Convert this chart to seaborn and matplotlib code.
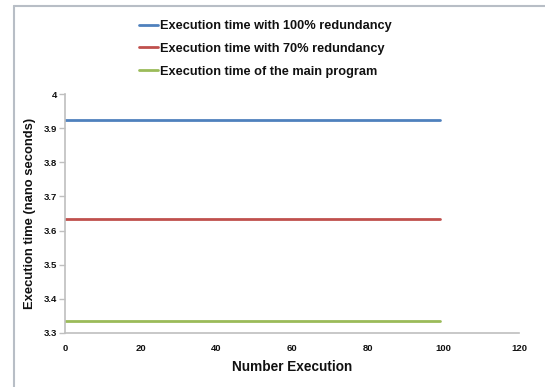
import numpy as np
import pandas as pd
import matplotlib
matplotlib.use("Agg")
import matplotlib.pyplot as plt
from matplotlib.lines import Line2D
import seaborn as sns

# Measured execution times (nanoseconds) for each of the 100 runs
runs = list(range(0, 100))
series_names = [
    "Execution time with 100% redundancy",
    "Execution time with 70% redundancy",
    "Execution time of the main program",
]
series_levels = [3.925, 3.633, 3.335]
series_colors = ["#4f81bd", "#c0504d", "#9bbb59"]

x_ticks = [0, 20, 40, 60, 80, 100, 120]
y_ticks = [3.3, 3.4, 3.5, 3.6, 3.7, 3.8, 3.9, 4.0]
y_tick_labels = ["3.3", "3.4", "3.5", "3.6", "3.7", "3.8", "3.9", "4"]

frames = []
for name, level in zip(series_names, series_levels):
    frames.append(pd.DataFrame({
        "run": runs,
        "time": [level for _ in runs],
        "series": name,
    }))
df = pd.concat(frames, ignore_index=True)

sns.set_theme(style="white")
plt.rcParams["font.family"] = ["Liberation Sans", "DejaVu Sans"]

fig = plt.figure(figsize=(5.45, 3.87), dpi=100)
ax = fig.add_axes([65 / 545, 1 - 333 / 387, (519 - 65) / 545, (333 - 94) / 387])

sns.lineplot(data=df, x="run", y="time", hue="series", hue_order=series_names,
             palette=series_colors, linewidth=2.0, ax=ax, legend=False)

ax.set_xlim(0, 120)
ax.set_ylim(3.3, 4.0)
ax.set_xticks(x_ticks)
ax.set_xticklabels([str(t) for t in x_ticks], fontsize=6.8, fontweight="bold")
ax.set_yticks(y_ticks)
ax.set_yticklabels(y_tick_labels, fontsize=6.8, fontweight="bold")
ax.tick_params(axis="x", length=0, pad=8, colors="#111111")
ax.tick_params(axis="y", length=4, width=1, color="#bfbfbf", pad=2, colors="#111111",
               left=True)

for side in ["top", "right"]:
    ax.spines[side].set_visible(False)
for side in ["left", "bottom"]:
    ax.spines[side].set_color("#bfbfbf")
    ax.spines[side].set_linewidth(1.2)

ax.set_xlabel("Number Execution", fontsize=9.8, fontweight="bold", labelpad=5,
              color="#111111")
ax.set_ylabel("Execution time (nano seconds)", fontsize=9.4, fontweight="bold",
              labelpad=5, color="#111111")

handles = [Line2D([0], [0], color=c, linewidth=2.0) for c in series_colors]
fig.legend(handles, series_names, loc="upper left",
           bbox_to_anchor=(139 / 545, 1 - 20 / 387), frameon=False,
           prop={"weight": "bold", "size": 9.2}, handlelength=1.5, handletextpad=0.15,
           labelspacing=0.85, borderpad=0, borderaxespad=0, labelcolor="#111111")

# Outer frame of the chart area
fig.add_artist(Line2D([14 / 545, 14 / 545], [0, 1 - 6 / 387], transform=fig.transFigure,
                      color="#b8bec6", linewidth=1.5))
fig.add_artist(Line2D([14 / 545, 1], [1 - 6 / 387, 1 - 6 / 387], transform=fig.transFigure,
                      color="#b8bec6", linewidth=1.5))

fig.savefig("out.png", dpi=100)
